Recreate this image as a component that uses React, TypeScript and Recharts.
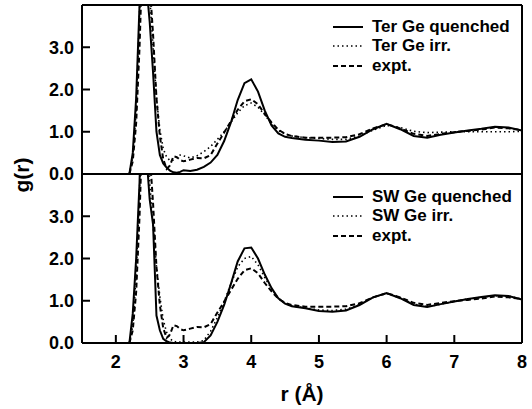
import { LineChart, Line, XAxis, YAxis, Legend, ReferenceLine } from "recharts";

const FONT = "'Liberation Sans', Arial, Helvetica, sans-serif";

// r (Å) grid shared by all curves
const rGrid = [
  2.2, 2.25, 2.3, 2.35, 2.4, 2.45, 2.5, 2.55, 2.6, 2.65,
  2.7, 2.75, 2.8, 2.85, 2.9, 2.95, 3.0, 3.1, 3.2, 3.3,
  3.4, 3.5, 3.6, 3.7, 3.8, 3.9, 4.0, 4.1, 4.2, 4.3,
  4.4, 4.5, 4.6, 4.8, 5.0, 5.2, 5.4, 5.6, 5.8, 6.0,
  6.2, 6.4, 6.6, 6.8, 7.0, 7.2, 7.4, 7.6, 7.8, 8.0,
];

const terQuenched = [
  0, 0.5, 1.8, 4.0, 7.5, 4.5, 3.6, 2.4, 1.0, 0.45,
  0.25, 0.15, 0.08, 0.04, 0.03, 0.05, 0.09, 0.07, 0.1, 0.17,
  0.27, 0.45, 0.78, 1.22, 1.75, 2.15, 2.24, 1.95, 1.5, 1.15,
  0.96, 0.88, 0.85, 0.81, 0.79, 0.76, 0.77, 0.88, 1.06, 1.19,
  1.06, 0.9, 0.86, 0.93, 0.98, 1.03, 1.07, 1.12, 1.1, 1.03,
];

const terIrr = [
  0, 0.4, 1.5, 3.8, 6.8, 6.5, 4.2, 3.0, 1.8, 1.05,
  0.6, 0.4, 0.32, 0.33, 0.4, 0.45, 0.43, 0.38, 0.43, 0.53,
  0.65, 0.82, 1.0, 1.22, 1.45, 1.62, 1.68, 1.58, 1.4, 1.18,
  1.03, 0.95, 0.9, 0.86, 0.84, 0.82, 0.82, 0.9, 1.04, 1.15,
  1.1, 1.01, 0.98, 0.99, 1.0, 1.0, 1.0, 1.0, 1.0, 1.01,
];

const expt = [
  0, 0.3, 1.2, 3.0, 5.5, 6.0, 4.5, 3.3, 1.8, 0.9,
  0.35, 0.12, 0.2, 0.42, 0.4, 0.33, 0.3, 0.34, 0.38, 0.37,
  0.45, 0.72, 0.98, 1.25, 1.52, 1.72, 1.77, 1.65, 1.42, 1.22,
  1.05, 0.95, 0.9, 0.86, 0.86, 0.86, 0.87, 0.94, 1.08, 1.18,
  1.08, 0.95, 0.9, 0.95, 0.99, 1.02, 1.05, 1.1, 1.08, 1.04,
];

const swQuenched = [
  0, 0.7, 2.0, 3.8, 7.0, 4.5, 3.4, 2.8, 0.65, 0.3,
  0.1, 0.04, 0.01, 0, 0, 0, 0, 0, 0, 0.02,
  0.18, 0.5, 0.9, 1.4, 1.93, 2.24, 2.26, 2.0, 1.62, 1.3,
  1.06, 0.93, 0.87, 0.82, 0.76, 0.74, 0.77, 0.9, 1.08, 1.18,
  1.06, 0.9, 0.85, 0.92, 0.98, 1.04, 1.09, 1.13, 1.11, 1.03,
];

const swIrr = [
  0, 0.4, 1.6, 3.6, 6.5, 6.0, 3.8, 2.8, 1.8, 1.1,
  0.55, 0.25, 0.1, 0.04, 0.02, 0.02, 0.02, 0.02, 0.02, 0.06,
  0.28, 0.6, 0.98, 1.4, 1.8, 2.0, 2.05, 1.85, 1.55, 1.28,
  1.06, 0.94, 0.88, 0.83, 0.78, 0.77, 0.8, 0.91, 1.08, 1.17,
  1.07, 0.92, 0.86, 0.92, 0.98, 1.04, 1.08, 1.12, 1.11, 1.04,
];

const terNames = ["Ter Ge quenched", "Ter Ge irr.", "expt."];
const swNames = ["SW Ge quenched", "SW Ge irr.", "expt."];

const xTicks = [2, 3, 4, 5, 6, 7, 8];
const yTicks = [0, 1, 2, 3];

const seriesKeys = ["quenched", "irr", "expt"];
const lineStyles: Record<string, { dash?: string; width: number }> = {
  quenched: { width: 2 },
  irr: { dash: "1.5 3", width: 1.6 },
  expt: { dash: "5 3", width: 2 },
};

const makeRows = (a: number[], b: number[], c: number[]) =>
  rGrid.map((r, i) => ({ r, quenched: a[i], irr: b[i], expt: c[i] }));

const terRows = makeRows(terQuenched, terIrr, expt);
const swRows = makeRows(swQuenched, swIrr, expt);

const axisStroke = { stroke: "#000", strokeWidth: 2 };
const tickFont = { fill: "#000", fontSize: 18, fontWeight: "bold", fontFamily: FONT };

const renderLegend = (props: any) => {
  const payload = [...(props.payload || [])].sort(
    (a: any, b: any) => seriesKeys.indexOf(a.dataKey) - seriesKeys.indexOf(b.dataKey)
  );
  return (
    <div style={{ fontFamily: FONT, fontWeight: "bold", fontSize: 17, color: "#000" }}>
      {payload.map((entry: any, i: number) => {
        const st = lineStyles[entry.dataKey] || { width: 2 };
        return (
          <div key={i} style={{ display: "flex", alignItems: "center", height: 19.5 }}>
            <svg width={39} height={10} style={{ flex: "none" }}>
              <line x1={0} x2={30} y1={5} y2={5} stroke="#000" strokeWidth={st.width} strokeDasharray={st.dash} />
            </svg>
            <span style={{ whiteSpace: "nowrap" }}>{entry.value}</span>
          </div>
        );
      })}
    </div>
  );
};

// "g(r)" sits on the seam between the two panels
const renderYTitle = (props: any) => {
  const vb = props.viewBox || {};
  const x = 29;
  const y = (vb.y ?? 174) + 1;
  return (
    <text
      x={x}
      y={y}
      transform={`rotate(-90 ${x} ${y})`}
      textAnchor="middle"
      fill="#000"
      fontSize={21}
      fontWeight="bold"
      fontFamily={FONT}
    >
      g(r)
    </text>
  );
};

interface PanelProps {
  rows: any[];
  names: string[];
  height: number;
  margin: { top: number; right: number; bottom: number; left: number };
  bottomAxisHeight: number;
  showXLabels: boolean;
  legendTop: number;
  showYTitle: boolean;
}

const Panel = ({ rows, names, height, margin, bottomAxisHeight, showXLabels, legendTop, showYTitle }: PanelProps) => (
  <div style={{ position: "absolute", left: 0, top: 0 }}>
    <LineChart width={532} height={height} data={rows} margin={margin}>
      <XAxis
        xAxisId="top"
        orientation="top"
        type="number"
        dataKey="r"
        domain={[1.5, 8]}
        ticks={xTicks}
        allowDataOverflow
        height={1}
        interval={0}
        tick={false}
        tickSize={-8}
        axisLine={axisStroke}
        tickLine={axisStroke}
      />
      <XAxis
        type="number"
        dataKey="r"
        domain={[1.5, 8]}
        ticks={xTicks}
        allowDataOverflow
        height={bottomAxisHeight}
        interval={0}
        tick={showXLabels ? tickFont : false}
        tickSize={-8}
        tickMargin={20}
        axisLine={axisStroke}
        tickLine={axisStroke}
        label={
          showXLabels
            ? {
                value: "r (Å)",
                position: "insideBottom",
                offset: 2,
                fill: "#000",
                fontSize: 21,
                fontWeight: "bold",
                fontFamily: FONT,
              }
            : undefined
        }
      />
      <YAxis
        type="number"
        domain={[0, 4]}
        ticks={yTicks}
        allowDataOverflow
        width={80}
        interval={0}
        tickSize={-8}
        tickMargin={16}
        tickFormatter={(v: number) => v.toFixed(1)}
        tick={tickFont}
        axisLine={axisStroke}
        tickLine={axisStroke}
        label={showYTitle ? { content: renderYTitle } : undefined}
      />
      <ReferenceLine x={8} stroke="#000" strokeWidth={2} />
      <Legend
        layout="vertical"
        align="center"
        verticalAlign="middle"
        content={renderLegend}
        wrapperStyle={{ position: "absolute", left: 333, top: legendTop, width: 195 }}
      />
      {seriesKeys.map((key, i) => (
        <Line
          key={key}
          dataKey={key}
          name={names[i]}
          type="linear"
          stroke="#000"
          strokeWidth={lineStyles[key].width}
          strokeDasharray={lineStyles[key].dash}
          dot={false}
          activeDot={false}
          isAnimationActive={false}
        />
      ))}
    </LineChart>
  </div>
);

export default function App() {
  return (
    <div style={{ position: "absolute", left: 0, top: 0, width: 532, height: 409, background: "#fff" }}>
      <Panel
        rows={terRows}
        names={terNames}
        height={195}
        margin={{ top: 4, right: 10, bottom: 20, left: 2 }}
        bottomAxisHeight={1}
        showXLabels={false}
        legendTop={17}
        showYTitle={false}
      />
      <Panel
        rows={swRows}
        names={swNames}
        height={409}
        margin={{ top: 173, right: 10, bottom: 6, left: 2 }}
        bottomAxisHeight={60}
        showXLabels={true}
        legendTop={187}
        showYTitle={true}
      />
    </div>
  );
}
